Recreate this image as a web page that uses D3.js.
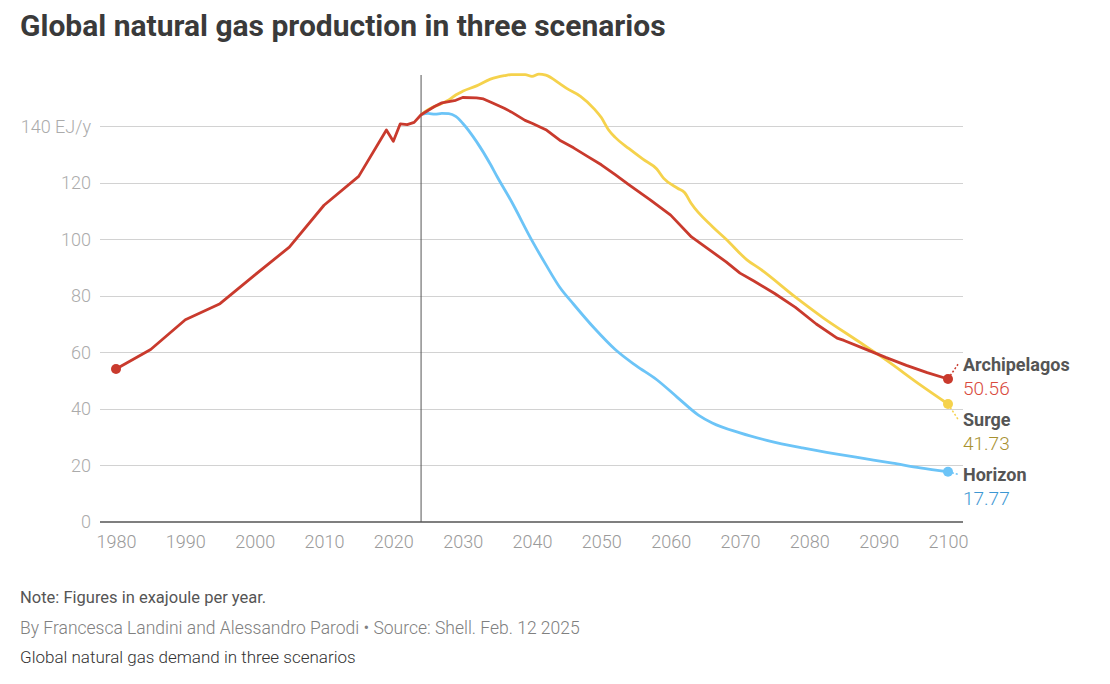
<script src='https://d3js.org/d3.v7.min.js'></script>
<style>
body {margin:0; background:#fff;}
text {font-family:Roboto, 'Noto Sans', sans-serif;}
.grid line {stroke:#d2d2d2; stroke-width:1; shape-rendering:crispEdges;}
.grid path, .xaxis path, .xaxis line {display:none;}
.ylab text {fill:#ababab; font-size:18px; font-weight:300;}
.xaxis text {fill:#9a9a9a; font-size:18px; font-weight:300;}
</style>
<body>
<svg id='chart' width='1110' height='684'></svg>
<script>
// history (shared start of the red line)
var histYears=[1980,1985,1990,1995,2000,2005,2010,2015,2019,2020,2021,2022,2023,2024];
var histValues=[54.1,61,71.5,77.2,87.3,97.2,112,122.2,138.6,134.6,140.8,140.5,141.3,144];
// scenarios from 2024
var archYears=[2024,2026,2027,2029,2030,2032,2033,2034,2036,2037,2039,2040,2042,2044,2046,2048,2050,2052,2054,2057,2060,2063,2066,2068,2070,2072,2075,2078,2081,2084,2085,2088,2091,2094,2097,2100];
var archValues=[144,147,148.2,149.1,150.1,150,149.6,148.5,146.3,145,142,141,138.7,135,132.3,129.3,126.3,122.8,119.2,114,108.5,100.8,95.5,92,88,85.2,80.8,75.9,70,65,64.2,61.2,58.2,55.4,52.8,50.56];
var surgeYears=[2024,2025,2027,2028,2029,2030,2032,2034,2035,2036,2037,2039,2040,2041,2042,2044,2045,2047,2049,2050,2051,2052,2054,2056,2058,2059,2061,2062,2063,2066,2068,2071,2073,2078,2082,2087,2091,2096,2100];
var surgeValues=[144,145.8,148,149.2,151,152.3,154.2,156.6,157.3,157.8,158.2,158.2,157.6,158.4,158,155,153.3,150.5,146,143,138.8,136,132,128.3,124.8,121.5,118,116.5,112.5,104.5,100,92.7,89.3,79.5,72.2,64,57.4,48.5,41.73];
var horizonYears=[2024,2025,2026,2027,2028,2029,2030,2032,2034,2035,2037,2040,2042,2044,2046,2049,2052,2055,2058,2061,2064,2066,2070,2074,2079,2084,2088,2092,2096,2100];
var horizonValues=[144,144.5,144.2,144.5,144.4,143.4,141,134.5,126.5,122,113.5,99.5,91,83,77,68.5,61,55.3,50.3,44,37.8,35,31.5,28.8,26.2,24,22.4,20.8,19.1,17.77];

var scenarioNames=['Archipelagos','Surge','Horizon'];
var lineColors=['#c93a2d','#f5d24c','#6cc4f7'];
var valueColors=['#d94a3d','#a8912f','#3d97d3'];
var yTicks=[0,20,40,60,80,100,120,140];
var xTicks=d3.range(1980,2101,10);
var splitYear=2024;

var svg=d3.select('#chart');
var x=d3.scaleLinear().domain([1980,2100]).range([116,948]);
var y=d3.scaleLinear().domain([0,160]).range([522,69.5]);
var gridLeft=100,gridRight=963;

svg.append('text').attr('x',20).attr('y',36).attr('font-size',30).attr('font-weight',700)
   .attr('fill','#3a3a3a').text('Global natural gas production in three scenarios');

// grid
svg.append('g').attr('class','grid').attr('transform','translate('+gridLeft+',0)')
   .call(d3.axisLeft(y).tickValues(yTicks.slice(1)).tickSize(-(gridRight-gridLeft)).tickFormat(''));
svg.append('g').attr('class','ylab').selectAll('text').data(yTicks).enter().append('text')
   .attr('x',91).attr('y',function(d){return y(d)}).attr('dy','0.36em').attr('text-anchor','end')
   .text(function(d){return d===140?'140 EJ/y':d});
svg.append('g').attr('class','xaxis').attr('transform','translate(0,522)')
   .call(d3.axisBottom(x).tickValues(xTicks).tickSize(0).tickPadding(13).tickFormat(d3.format('d')));

// split marker
svg.append('line').attr('x1',x(splitYear)).attr('x2',x(splitYear)).attr('y1',75).attr('y2',y(0))
   .attr('stroke','#555').attr('stroke-width',1);
svg.append('line').attr('x1',gridLeft).attr('x2',gridRight).attr('y1',y(0)).attr('y2',y(0))
   .attr('stroke','#555').attr('stroke-width',1.5);

var straight=d3.line().x(function(d){return x(d[0])}).y(function(d){return y(d[1])});
var smooth=d3.line().curve(d3.curveMonotoneX).x(function(d){return x(d[0])}).y(function(d){return y(d[1])});
function pairs(a,b){return a.map(function(v,i){return [v,b[i]]})}
var series=[pairs(histYears.slice(0,-1).concat(archYears),histValues.slice(0,-1).concat(archValues)),
            pairs(surgeYears,surgeValues),pairs(horizonYears,horizonValues)];

[2,1,0].forEach(function(i){
  svg.append('path').datum(series[i]).attr('d',i===0?straight:smooth).attr('fill','none')
     .attr('stroke',lineColors[i]).attr('stroke-width',2.8).attr('stroke-linejoin','round');
});
svg.append('circle').attr('cx',x(histYears[0])).attr('cy',y(histValues[0])).attr('r',5).attr('fill',lineColors[0]);

// end labels with simple collision avoidance
var ends=series.map(function(s,i){var p=s[s.length-1];return {i:i,x:x(p[0]),y:y(p[1]),v:p[1],ly:y(p[1])+8}});
var gap=55;
for(var k=0;k<30;k++){
  ends.sort(function(a,b){return a.ly-b.ly});
  for(var j=1;j<ends.length;j++){
    var o=ends[j-1].ly+gap-ends[j].ly;
    if(o>0){ends[j-1].ly-=o/2;ends[j].ly+=o/2;}
  }
}
ends.forEach(function(e){
  svg.append('line').attr('x1',e.x).attr('y1',e.y).attr('x2',958).attr('y2',e.ly-7)
     .attr('stroke',lineColors[e.i]).attr('stroke-width',1.5).attr('stroke-dasharray','2,2');
  svg.append('circle').attr('cx',e.x).attr('cy',e.y).attr('r',5).attr('fill',lineColors[e.i]);
  svg.append('text').attr('x',963).attr('y',e.ly).attr('font-size',18).attr('font-weight',700)
     .attr('fill','#555').text(scenarioNames[e.i]);
  svg.append('text').attr('x',963).attr('y',e.ly+24).attr('font-size',19).attr('font-weight',300)
     .attr('fill',valueColors[e.i]).text(e.v.toFixed(2));
});

// footer
svg.append('text').attr('x',20).attr('y',603).attr('font-size',16.5).attr('fill','#555').text('Note: Figures in exajoule per year.');
svg.append('text').attr('x',20).attr('y',634).attr('font-size',17.5).attr('font-weight',300).attr('fill','#808080')
   .text('By Francesca Landini and Alessandro Parodi \u2022 Source: Shell. Feb. 12 2025');
svg.append('text').attr('x',20).attr('y',663).attr('font-size',17).attr('font-weight',300).attr('fill','#333').text('Global natural gas demand in three scenarios');
</script>
</body>
